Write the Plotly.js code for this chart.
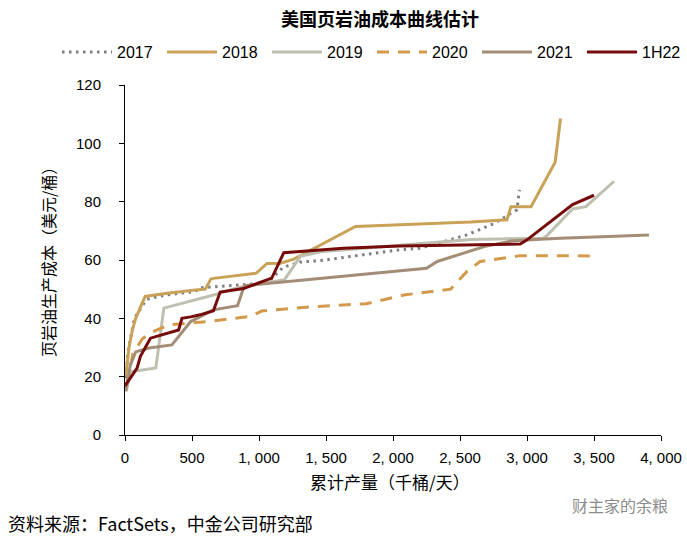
<!DOCTYPE html>
<html>
<head>
<meta charset="utf-8">
<script src="https://cdn.plot.ly/plotly-3.0.1.min.js"></script>
<style>html,body{margin:0;padding:0;background:#fff;}#chart{width:687px;height:536px;}</style>
</head>
<body>
<div id="chart"></div>
<script>
// ---- data ----
const seriesNames = ["2017", "2018", "2019", "2020", "2021", "1H22"];

const x2017 = [5, 20, 40, 70, 160, 300, 525, 560, 880, 1000, 1080, 1180, 1310, 1460, 2050, 2200, 2430, 2550, 2750, 2840, 2890, 2925, 2937, 2945];
const y2017 = [17, 28, 33, 40, 46.5, 48, 49.2, 50.5, 51.5, 52, 53, 57.5, 59.3, 59.8, 63.5, 64, 67, 68.6, 72.4, 74.8, 76, 77.2, 81.7, 84];

const x2018 = [5, 30, 55, 80, 150, 300, 525, 600, 640, 660, 980, 1060, 1160, 1260, 1720, 2580, 2850, 2880, 3030, 3210, 3250];
const y2018 = [20, 30, 36, 40, 47.5, 48.5, 49.7, 50, 53.5, 53.7, 55.5, 58.8, 58.9, 60.3, 71.5, 73, 73.8, 78.3, 78.3, 93.5, 108.5];

const x2019 = [10, 40, 230, 290, 710, 840, 1190, 1310, 1460, 2430, 2580, 3120, 3140, 3340, 3440, 3650];
const y2019 = [15, 21.7, 23, 43.5, 48.6, 50.5, 53.2, 61.3, 62.8, 66.3, 67, 67.5, 68, 77.5, 78.3, 87];

const x2020 = [10, 60, 130, 190, 330, 640, 940, 1020, 1400, 1800, 2080, 2430, 2460, 2550, 2650, 2800, 2950, 3500];
const y2020 = [17, 28, 33, 35, 37.8, 39, 40.7, 42.5, 44, 45, 48, 50, 51.5, 56, 59.5, 60.6, 61.5, 61.4];

const x2021 = [5, 40, 80, 180, 350, 490, 660, 840, 890, 1190, 1530, 2250, 2330, 2680, 2880, 3100, 3250, 3910];
const y2021 = [15, 24, 28.5, 29.8, 30.9, 38.9, 42.9, 44.3, 51.2, 52.6, 54, 57.2, 59.5, 64.6, 66.5, 67.1, 67.5, 68.6];

const x1H22 = [0, 90, 115, 190, 400, 425, 490, 560, 660, 710, 885, 1095, 1185, 1630, 2050, 2950, 3000, 3340, 3500];
const y1H22 = [16.8, 22.9, 27, 33.2, 36, 40, 40.5, 41.2, 42.6, 49, 50.2, 53.8, 62.5, 64, 64.8, 65.5, 66.9, 79, 82.2];

const xTickVals = [0, 500, 1000, 1500, 2000, 2500, 3000, 3500, 4000];
const xTickText = ["0", "500", "1, 000", "1, 500", "2, 000", "2, 500", "3, 000", "3, 500", "4, 000"];
const yTickVals = [0, 20, 40, 60, 80, 100, 120];

// ---- styles ----
const numFont = "'Liberation Sans', Arial, sans-serif";
const cjkFont = "'Noto Sans CJK SC', 'Liberation Sans', sans-serif";

const styles = [
  {color: "#7f7f7f", width: 3, dash: "2.5px,4.5px"},
  {color: "#c9a257", width: 3, dash: "solid"},
  {color: "#bfbfb0", width: 3, dash: "solid"},
  {color: "#d39a4b", width: 3, dash: "12px,9px"},
  {color: "#a38d77", width: 3, dash: "solid"},
  {color: "#760b0b", width: 3, dash: "solid"}
];
const xs = [x2017, x2018, x2019, x2020, x2021, x1H22];
const ys = [y2017, y2018, y2019, y2020, y2021, y1H22];

const traces = seriesNames.map((n, i) => ({
  type: "scatter",
  mode: "lines",
  name: n,
  x: xs[i],
  y: ys[i],
  line: {color: styles[i].color, width: styles[i].width, dash: styles[i].dash}
}));

const W = 687, H = 536;
const PW = W - 125 - 26, PH = H - 85 - 101;
const layout = {
  width: W, height: H,
  margin: {l: 125, r: 26, t: 85, b: 101},
  paper_bgcolor: "#fff",
  plot_bgcolor: "#fff",
  showlegend: true,
  legend: {
    orientation: "h",
    xref: "paper", yref: "paper",
    x: (57 - 125) / PW, xanchor: "left",
    y: 1 + (85 - 52) / PH, yanchor: "middle",
    font: {family: numFont, size: 16, color: "#000"},
    itemwidth: 50,
    entrywidth: 40,
    traceorder: "normal",
    bgcolor: "rgba(0,0,0,0)"
  },
  xaxis: {
    range: [0, 4000],
    tickmode: "array",
    tickvals: xTickVals,
    ticktext: xTickText,
    ticks: "outside", ticklen: 5, tickwidth: 1, tickcolor: "#000",
    showline: true, linecolor: "#000", linewidth: 1,
    showgrid: false, zeroline: false,
    tickfont: {family: numFont, size: 15, color: "#000"},
    ticklabelstandoff: 4,
    fixedrange: true
  },
  yaxis: {
    range: [0, 120],
    tickmode: "array",
    tickvals: yTickVals,
    ticks: "outside", ticklen: 5, tickwidth: 1, tickcolor: "#000",
    showline: true, linecolor: "#000", linewidth: 1,
    showgrid: false, zeroline: false,
    tickfont: {family: numFont, size: 15, color: "#000"},
    ticklabelstandoff: 15,
    fixedrange: true
  },
  annotations: [
    {text: "<b>美国页岩油成本曲线估计</b>", xref: "paper", yref: "paper",
     x: (380 - 125) / PW, y: 1 + (85 - 18) / PH,
     xanchor: "center", yanchor: "middle", showarrow: false,
     font: {family: cjkFont, size: 18, color: "#000"}},
    {text: "页岩油生产成本（美元/桶）", xref: "paper", yref: "paper",
     x: (48 - 125) / PW, y: (435 - 258) / PH,
     xanchor: "center", yanchor: "middle", textangle: -90, showarrow: false,
     font: {family: cjkFont, size: 16, color: "#000"}},
    {text: "累计产量（千桶/天）", xref: "paper", yref: "paper",
     x: (390 - 125) / PW, y: -(481 - 435) / PH,
     xanchor: "center", yanchor: "middle", showarrow: false,
     font: {family: cjkFont, size: 17, color: "#000"}},
    {text: "资料来源：FactSets，中金公司研究部", xref: "paper", yref: "paper",
     x: (6 - 125) / PW, y: -(523 - 435) / PH,
     xanchor: "left", yanchor: "middle", showarrow: false,
     font: {family: cjkFont, size: 18, color: "#000"}},
    {text: "财主家的余粮", xref: "paper", yref: "paper",
     x: (670 - 125) / PW, y: -(505 - 435) / PH,
     xanchor: "right", yanchor: "middle", showarrow: false,
     font: {family: cjkFont, size: 16, color: "#8c8c8c"}}
  ]
};

Plotly.newPlot("chart", traces, layout, {displayModeBar: false, staticPlot: true});
</script>
</body>
</html>
